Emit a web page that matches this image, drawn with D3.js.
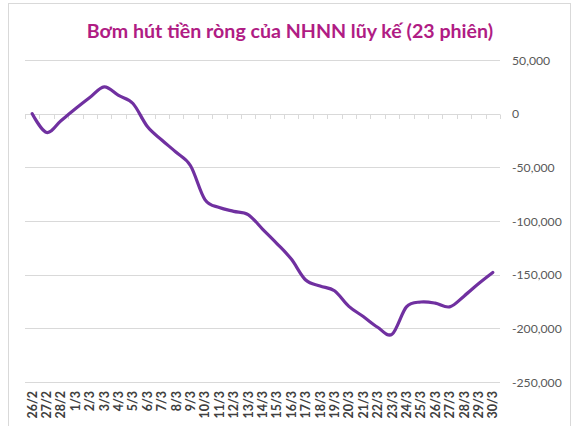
<!DOCTYPE html>
<html><head><meta charset="utf-8">
<script src="https://cdn.jsdelivr.net/npm/d3@7"></script>
<style>body{margin:0;background:#fff}svg{display:block}</style>
</head><body>
<svg id="c" width="576" height="426"></svg>
<script>
const title = "Bơm hút tiền ròng của NHNN lũy kế (23 phiên)";
const categories = ["26/2","27/2","28/2","1/3","2/3","3/3","4/3","5/3","6/3","7/3","8/3","9/3","10/3","11/3","12/3","13/3","14/3","15/3","16/3","17/3","18/3","19/3","20/3","21/3","22/3","23/3","24/3","25/3","26/3","27/3","28/3","29/3","30/3"];
const values = [0,-17500,-6500,4500,15000,25000,17000,9500,-12000,-24500,-36000,-48500,-80000,-87500,-91000,-94000,-107500,-121000,-135500,-155000,-160500,-165000,-179500,-189000,-199000,-205500,-180000,-175500,-176500,-180000,-170000,-158500,-148000];
const yTicks = [50000,0,-50000,-100000,-150000,-200000,-250000];

const svg = d3.select("#c");
const m = {l:25, r:500, t:60, b:382};

svg.append("rect").attr("x",8.5).attr("y",3.5).attr("width",562).attr("height",440)
  .attr("fill","#fff").attr("stroke","#d9d9d9").attr("stroke-width",1);

const x = d3.scaleBand().domain(categories).range([m.l, m.r]).paddingInner(0).paddingOuter(0);
const y = d3.scaleLinear().domain([-250000, 50000]).range([m.b, m.t]);

svg.append("g").selectAll("line").data(yTicks).join("line")
  .attr("x1", m.l).attr("x2", m.r)
  .attr("y1", d => Math.round(y(d))+0.5).attr("y2", d => Math.round(y(d))+0.5)
  .attr("stroke", "#d9d9d9").attr("stroke-width", 1);

const ticksPos = categories.map(c => x(c)).concat([m.r]);
svg.append("g").selectAll("line").data(ticksPos).join("line")
  .attr("x1", d => Math.round(d)+0.5).attr("x2", d => Math.round(d)+0.5)
  .attr("y1", Math.round(y(0))+0.5).attr("y2", Math.round(y(0))+5)
  .attr("stroke", "#d9d9d9").attr("stroke-width", 1);

const yAxis = d3.axisRight(y).tickValues(yTicks).tickSize(0).tickPadding(0)
  .tickFormat(d => d3.format(",")(d).replace("−","-"));
const ga = svg.append("g").attr("transform", `translate(512,0)`).call(yAxis);
ga.select(".domain").remove();
ga.selectAll("text").attr("font-family","Lato, 'Open Sans', sans-serif").attr("font-size","12.2px")
  .attr("fill","#595959").attr("dy","0.35em");

const xAxis = d3.axisBottom(x).tickSize(0).tickPadding(0);
const gx = svg.append("g").attr("transform", `translate(0,391)`).call(xAxis);
gx.select(".domain").remove();
gx.selectAll("text")
  .attr("font-family","Lato, 'Open Sans', sans-serif").attr("font-weight","bold").attr("font-size","12.5px")
  .attr("fill","#404040")
  .attr("text-anchor","end").attr("y",0).attr("dy","0.36em").attr("x",0)
  .attr("transform","rotate(-90)");

const line = d3.line()
  .x((d,i) => x(categories[i]) + x.bandwidth()/2)
  .y(d => y(d))
  .curve(d3.curveCatmullRom.alpha(0));
svg.append("path").datum(values).attr("d", line)
  .attr("fill","none").attr("stroke","#7030A0").attr("stroke-width",3.2)
  .attr("stroke-linejoin","round").attr("stroke-linecap","round");

svg.append("text").attr("x", 290).attr("y", 38).attr("text-anchor","middle")
  .attr("font-family","Lato, 'Open Sans', sans-serif").attr("font-weight","bold").attr("font-size","19.6px")
  .attr("fill","#B01C84").text(title);
</script>
</body></html>
